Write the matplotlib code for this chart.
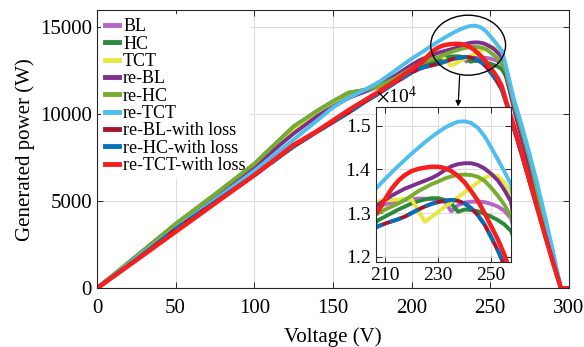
import matplotlib
matplotlib.use("Agg")
import matplotlib.pyplot as plt
from matplotlib.patches import Ellipse
from matplotlib.lines import Line2D
from matplotlib.ticker import ScalarFormatter, MultipleLocator

plt.rcParams['font.family'] = ['Liberation Serif', 'DejaVu Serif']
plt.rcParams['mathtext.fontset'] = 'stix'

# ---------------- data ----------------
voltage = [0, 25, 50, 75, 100, 125, 140, 150, 160, 170, 180, 190, 200, 205,
           207.5, 210, 212.5, 215, 217.5, 220, 222.5, 225, 227.5, 230, 232.5,
           235, 237.5, 240, 242.5, 245, 247.5, 250, 252.5, 255, 257.5, 260,
           265, 270, 275, 280, 285, 290, 295, 300]

p_bl = [0, 1800, 3650, 5350, 7050, 9000, 10000, 10550, 11050, 11300, 11600, 12100, 12700, 13000,
        13150, 13200, 13240, 13270, 13300, 13320, 13330, 13330, 13320, 13300, 13260,
        13040, 13180, 13240, 13260, 13260, 13250, 13210, 13150, 13050, 12880, 12300,
        10500, 8750, 7000, 5250, 3500, 1750, 0, 0]
p_hc = [0, 1850, 3700, 5400, 7150, 9300, 10200, 10750, 11250, 11400, 11600, 12000, 12450, 12700,
        12840, 12920, 13000, 13080, 13150, 13220, 13270, 13310, 13340, 13340, 13300,
        13220, 13030, 13080, 13070, 13040, 12980, 12920, 12840, 12740, 12590, 12200,
        10600, 9100, 7600, 5400, 3500, 1700, 0, 0]
p_tct = [0, 1800, 3650, 5350, 7150, 9100, 10050, 10550, 11000, 11300, 11650, 12150, 12750, 13150,
         13270, 13290, 13300, 13310, 13320, 13320, 13050, 12800, 12910, 13025, 13140,
         13250, 13360, 13475, 13590, 13700, 13810, 13860, 13850, 13700, 13450, 12700,
         10800, 8900, 7100, 5300, 3500, 1750, 0, 0]
p_rebl = [0, 1800, 3600, 5300, 7000, 8900, 9900, 10450, 10950, 11300, 11700, 12250, 12850, 13100,
          13200, 13300, 13400, 13480, 13560, 13620, 13680, 13740, 13800, 13880, 13980,
          14070, 14120, 14140, 14140, 14100, 14020, 13900, 13750, 13530, 13260, 12300,
          10380, 8620, 6900, 5170, 3450, 1720, 0, 0]
p_rehc = [0, 1850, 3700, 5400, 7150, 9300, 10200, 10750, 11250, 11400, 11650, 12100, 12650, 12900,
          13000, 13080, 13150, 13220, 13300, 13400, 13500, 13580, 13660, 13720, 13790,
          13840, 13870, 13880, 13870, 13830, 13740, 13580, 13400, 13190, 12920, 12500,
          10700, 9100, 7500, 5600, 3700, 1800, 0, 0]
p_retct = [0, 1750, 3450, 5100, 6750, 8550, 9650, 10400, 10950, 11400, 11900, 12550, 13200, 13480,
           13620, 13780, 13930, 14080, 14220, 14360, 14490, 14620, 14740, 14850, 14950,
           15030, 15090, 15100, 15060, 14950, 14760, 14500, 14230, 13950, 13650, 12800,
           10900, 9400, 7750, 6000, 4100, 2100, 0, 0]
p_rebl_loss = [0, 1650, 3400, 4950, 6500, 8150, 9000, 9550, 10100, 10700, 11250, 11850, 12400, 12620,
               12700, 12760, 12810, 12860, 12920, 13000, 13080, 13150, 13210, 13250, 13280,
               13300, 13280, 13220, 13110, 12950, 12740, 12450, 12150, 11800, 11400, 10700,
               9200, 7700, 6150, 4600, 3050, 1500, 0, 0]
p_rehc_loss = list(p_rebl_loss)
p_retct_loss = [0, 1620, 3250, 4880, 6500, 8250, 9050, 9650, 10250, 10800, 11350, 11950, 12600, 12900,
                13050, 13320, 13560, 13740, 13870, 13960, 14010, 14040, 14060, 14060, 14030,
                13960, 13850, 13700, 13500, 13280, 13000, 12700, 12400, 12050, 11600, 10800,
                9370, 7800, 6200, 4600, 3000, 1450, 0, 0]

labels = ['BL', 'HC', 'TCT', 're-BL', 're-HC', 're-TCT',
          're-BL-with loss', 're-HC-with loss', 're-TCT-with loss']
colors = ['#B566C8', '#2A8A3A', '#E8E640', '#7E2F8E', '#77AC30', '#4DBEEE',
          '#A2142F', '#0072BD', '#F5201E']
series = [p_bl, p_hc, p_tct, p_rebl, p_rehc, p_retct,
          p_rebl_loss, p_rehc_loss, p_retct_loss]
styles = ['-', '-', '-', '-', '-', '-', '-', (0, (3, 2)), '-']
widths = [2.8, 2.8, 2.8, 2.8, 2.8, 2.8, 2.8, 2.8, 3.2]

# ---------------- figure ----------------
fig = plt.figure(figsize=(5.84, 3.47), dpi=100)
ax = fig.add_axes([0.166, 0.169, 0.808, 0.802])

def style_axes(a, fs, xpad):
    for s in a.spines.values():
        s.set_color('#262626')
        s.set_linewidth(0.8)
    a.tick_params(direction='in', top=True, right=True, length=4,
                  width=0.7, labelsize=fs, colors='#262626', labelcolor='black')
    a.tick_params(axis='x', pad=xpad)
    a.tick_params(which='minor', direction='in', top=True, right=True, length=0)
    a.grid(True, which='both', color='#dedede', linewidth=0.8)
    a.set_axisbelow(True)

for p, c, ls, lw in zip(series, colors, styles, widths):
    ax.plot(voltage, p, color=c, linestyle=ls, linewidth=lw,
            solid_capstyle='butt', zorder=2)

ax.set_xlim(0, 300)
ax.set_ylim(0, 16000)
ax.set_xticks([0, 50, 100, 150, 200, 250, 300])
ax.set_yticks([0, 5000, 10000, 15000])
style_axes(ax, 15, 7.5)
ax.set_xlabel('Voltage (V)', fontsize=15, labelpad=7)
ax.set_ylabel('Generated power (W)', fontsize=15, labelpad=4)

handles = [Line2D([0], [0], color=c, lw=3.5) for c in colors]
leg = ax.legend(handles, labels, loc='upper left', bbox_to_anchor=(0.0, 1.0),
                fontsize=13, handlelength=0.75, handletextpad=0.25,
                labelspacing=0.02, borderpad=0.25, frameon=True, fancybox=False,
                framealpha=1.0, borderaxespad=0.2)
leg.get_frame().set_edgecolor('none')
leg.get_frame().set_facecolor('white')
leg.set_zorder(1.5)

# ellipse + arrow
ax.add_patch(Ellipse((236, 13980), 47.6, 3450, facecolor='none',
                     edgecolor='black', linewidth=1.0, zorder=5))
ax.annotate('', xy=(229.6, 10460), xytext=(230.6, 12250),
            arrowprops=dict(arrowstyle='-|>', color='black', lw=0.9,
                            mutation_scale=8, shrinkA=0, shrinkB=0), zorder=5)

# ---------------- inset ----------------
axin = fig.add_axes([0.644, 0.245, 0.231, 0.447])
for p, c, ls, lw in zip(series, colors, styles, widths):
    axin.plot(voltage, p, color=c, linestyle=ls, linewidth=lw, solid_capstyle='butt')
axin.set_xlim(206.6, 257.5)
axin.set_ylim(11880, 15430)
axin.set_xticks([210, 230, 250])
axin.xaxis.set_minor_locator(MultipleLocator(10))
axin.set_yticks([12000, 13000, 14000, 15000])
fmt = ScalarFormatter(useMathText=True)
fmt.set_powerlimits((0, 0))
axin.yaxis.set_major_formatter(fmt)
style_axes(axin, 14, 3.5)
axin.yaxis.get_offset_text().set_fontsize(14)
axin.set_facecolor('white')

fig.savefig('out.png', dpi=100)
